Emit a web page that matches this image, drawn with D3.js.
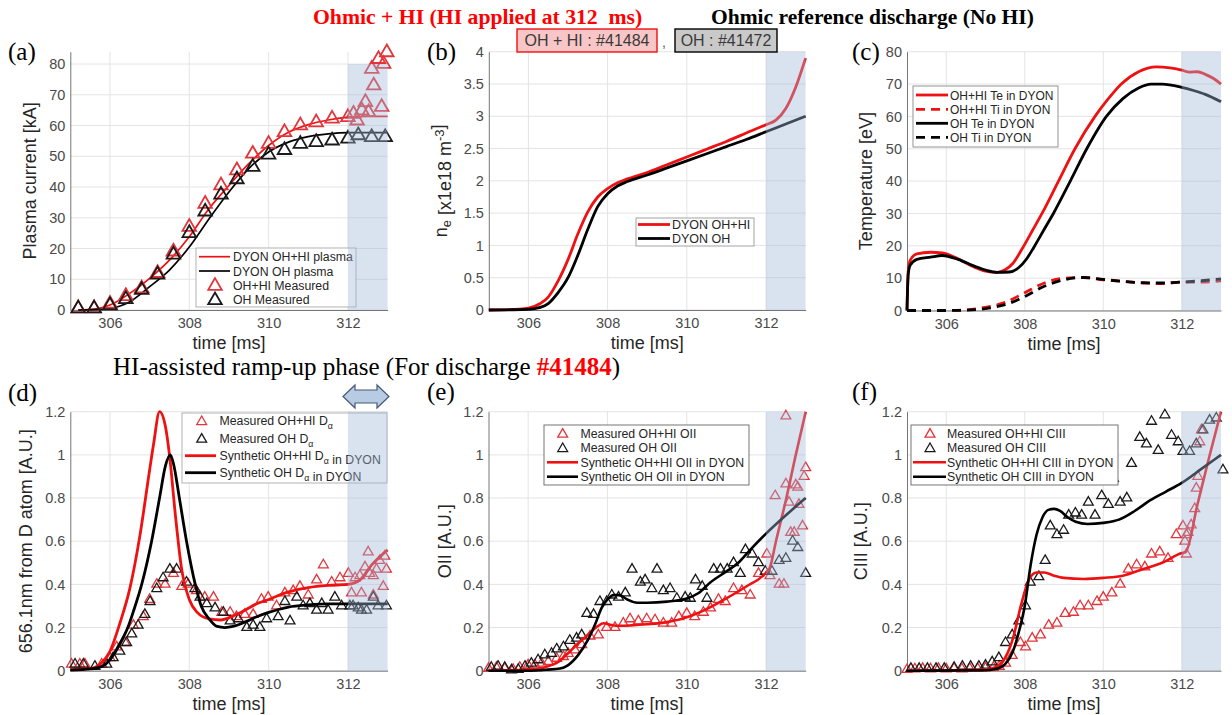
<!DOCTYPE html>
<html>
<head>
<meta charset="utf-8">
<script src="https://cdn.jsdelivr.net/npm/d3@7"></script>
<style>
  body { margin: 0; background: #fff; }
  svg { display: block; }
</style>
</head>
<body>
<svg id="fig" width="1232" height="715"></svg>
<script>
// ---- data (time in ms) ----
var xTicks = [306, 308, 310, 312];
var ipTicks = [0, 10, 20, 30, 40, 50, 60, 70, 80];
var neTicks = [0, 0.5, 1, 1.5, 2, 2.5, 3, 3.5, 4];
var auTicks = [0, 0.2, 0.4, 0.6, 0.8, 1, 1.2];

// (a) plasma current [kA]
var ipSimHI = [[305.2,0],[305.6,0.3],[306,1.6],[306.5,5.4],[307,10.3],[307.5,16.2],[308,23.8],[308.5,33],[309,40.5],[309.5,47.6],[310,53.5],[310.5,57.8],[311,60.3],[311.5,61.8],[312,62.7],[312.5,63],[313,63]];
var ipSimOH = [[305.2,0],[305.6,0.1],[306,0.5],[306.5,2.7],[307,7.6],[307.5,13],[308,20.5],[308.5,29.7],[309,38.4],[309.5,46],[310,51.4],[310.5,54.6],[311,56.4],[311.5,57.3],[312,57.7],[313,57.7]];
var ipMeasHI = [[305.2,0.5],[305.6,0.5],[306,2],[306.4,4.5],[306.8,7],[307.2,12],[307.6,19],[308,27],[308.4,34.5],[308.8,40.5],[309.2,45.4],[309.6,50.8],[310,54],[310.4,57.8],[310.8,60],[311.2,61],[311.6,62.2],[312,62.7],[312.14,63.8],[312.23,61.6],[312.35,64.9],[312.44,67.6],[312.52,64.3],[312.6,78.4],[312.65,73],[312.77,81.6],[312.85,66],[312.9,80],[312.98,83.8]];
var ipMeasOH = [[305.2,0.5],[305.6,0.5],[306,1.5],[306.4,3.5],[306.8,6.5],[307.2,11.5],[307.6,18],[308,25],[308.4,32],[308.8,37.5],[309.2,42.5],[309.6,46.5],[310,50.5],[310.4,52],[310.8,54],[311.2,54.6],[311.6,55.1],[312,55.7],[312.26,56.8],[312.6,56.2],[312.94,56.2]];

// (b) electron density [1e18 m^-3]
var neHI = [[305,0],[305.5,0.005],[306,0.03],[306.3,0.1],[306.5,0.2],[306.75,0.45],[307,0.78],[307.25,1.18],[307.5,1.52],[307.75,1.75],[308,1.88],[308.25,1.97],[308.5,2.03],[309,2.13],[309.5,2.25],[310,2.37],[310.5,2.49],[311,2.61],[311.5,2.74],[312,2.87],[312.25,2.94],[312.5,3.12],[312.75,3.45],[313,3.9]];
var neOH = [[305,0],[305.5,0.003],[306,0.01],[306.3,0.04],[306.5,0.1],[306.75,0.27],[307,0.5],[307.25,0.85],[307.5,1.25],[307.75,1.6],[308,1.8],[308.25,1.92],[308.5,1.99],[309,2.09],[309.5,2.2],[310,2.31],[310.5,2.42],[311,2.53],[311.5,2.64],[312,2.76],[312.5,2.88],[313,3]];

// (c) temperatures [eV]
var teHI = [[305,0],[305.03,12],[305.08,15.5],[305.25,17.5],[305.6,18],[305.9,17.8],[306.3,16],[306.7,13.5],[307,12.2],[307.3,11.8],[307.5,12.6],[307.7,14.6],[307.93,19],[308.2,24.8],[308.44,30],[308.86,40],[309.28,50],[309.79,60],[310.1,65],[310.46,70],[310.9,73.8],[311.35,75.3],[311.7,75],[312,74.3],[312.2,73.7],[312.4,73.8],[312.6,73],[312.8,71.8],[313,70]];
var tiHI = [[305,0],[306,0],[306.5,0.2],[307,1],[307.5,2.5],[308,5.5],[308.5,8.5],[309,10],[309.5,10.2],[310,9.5],[310.5,9],[311,8.5],[311.5,8.3],[312,8.8],[312.5,8.8],[313,9.2]];
var teOH = [[305,0],[305.03,11],[305.08,14],[305.25,15.8],[305.6,16.5],[305.9,17],[306.3,15.8],[306.7,13.8],[307,12.5],[307.3,11.8],[307.6,11.9],[307.85,13.3],[308.05,16],[308.23,19.5],[308.5,25.2],[308.73,30],[309.16,40],[309.58,50],[310.08,60],[310.5,65.5],[310.9,68.8],[311.22,70],[311.5,70],[312,69],[312.3,68],[312.6,66.8],[313,64.5]];
var tiOH = [[305,0],[306,0],[306.5,0.1],[307,0.6],[307.5,1.8],[308,4.3],[308.5,7.5],[309,9.5],[309.5,10.2],[310,9.6],[310.5,9],[311,8.6],[311.5,8.5],[312,8.8],[312.5,9.2],[313,9.8]];

// (d) D-alpha 656.1 nm [A.U.]
var daMeasHI = [[305.03,0.03],[305.24,0.03],[305.37,0.03],[305.79,0.03],[306,0.06],[306.17,0.11],[306.38,0.13],[306.59,0.21],[306.84,0.25],[307,0.33],[307.18,0.4],[307.39,0.4],[307.6,0.45],[307.81,0.39],[307.97,0.4],[308.18,0.37],[308.39,0.34],[308.61,0.34],[308.82,0.27],[309.03,0.27],[309.19,0.25],[309.4,0.26],[309.61,0.26],[309.82,0.33],[309.99,0.34],[310.2,0.3],[310.41,0.36],[310.62,0.37],[310.79,0.39],[311,0.35],[311.21,0.42],[311.38,0.49],[311.59,0.41],[311.8,0.43],[312.01,0.45],[312.09,0.36],[312.18,0.43],[312.3,0.44],[312.34,0.36],[312.43,0.48],[312.51,0.55],[312.55,0.45],[312.64,0.35],[312.64,0.44],[312.72,0.47],[312.8,0.51],[312.89,0.39],[312.93,0.53],[312.97,0.47]];
var daMeasOH = [[305.12,0.03],[305.33,0.03],[305.62,0.02],[305.92,0.03],[306.08,0.06],[306.25,0.09],[306.42,0.13],[306.55,0.17],[306.71,0.21],[306.88,0.26],[307.01,0.32],[307.18,0.38],[307.34,0.43],[307.51,0.47],[307.68,0.47],[307.93,0.41],[308.14,0.38],[308.27,0.34],[308.44,0.31],[308.65,0.29],[308.86,0.27],[309.03,0.23],[309.24,0.24],[309.45,0.2],[309.61,0.21],[309.78,0.2],[309.95,0.24],[310.24,0.25],[310.41,0.32],[310.54,0.23],[310.71,0.34],[310.87,0.3],[311.04,0.31],[311.21,0.28],[311.34,0.31],[311.5,0.28],[311.67,0.34],[311.84,0.3],[312.05,0.3],[312.13,0.3],[312.26,0.29],[312.34,0.28],[312.47,0.28],[312.64,0.34],[312.76,0.3],[312.97,0.3]];
var daSimHI = [[305,0.005],[305.5,0.01],[305.75,0.03],[306,0.09],[306.25,0.22],[306.5,0.38],[306.75,0.62],[307,0.93],[307.1,1.05],[307.25,1.2],[307.4,1.13],[307.5,1],[307.65,0.72],[307.8,0.48],[308,0.33],[308.2,0.27],[308.5,0.24],[308.8,0.235],[309,0.245],[309.3,0.27],[309.7,0.31],[310,0.33],[310.5,0.365],[311,0.385],[311.5,0.395],[312,0.4],[312.3,0.42],[312.6,0.49],[313,0.56]];
var daSimOH = [[305,0.003],[305.5,0.008],[305.8,0.02],[306,0.05],[306.2,0.11],[306.45,0.2],[306.6,0.28],[306.8,0.4],[307.05,0.6],[307.25,0.8],[307.4,0.95],[307.52,1],[307.6,0.96],[307.75,0.8],[307.93,0.6],[308.15,0.4],[308.3,0.3],[308.5,0.24],[308.7,0.205],[308.9,0.2],[309.1,0.205],[309.4,0.225],[309.7,0.25],[310,0.27],[310.5,0.295],[311,0.305],[311.5,0.31],[312,0.31],[313,0.31]];

// (e) OII [A.U.]
var oiiMeasHI = [[305,0.01],[305.2,0.015],[305.41,0.01],[305.62,0.006],[305.79,0.015],[306,0.026],[306.17,0.026],[306.34,0.034],[306.51,0.042],[306.72,0.057],[306.89,0.065],[307.01,0.08],[307.18,0.096],[307.35,0.12],[307.56,0.16],[307.77,0.165],[307.98,0.2],[308.19,0.2],[308.4,0.22],[308.57,0.24],[308.78,0.23],[308.99,0.24],[309.2,0.235],[309.41,0.22],[309.62,0.22],[309.8,0.25],[310,0.265],[310.2,0.25],[310.42,0.27],[310.6,0.29],[310.8,0.33],[310.97,0.32],[311.18,0.38],[311.39,0.37],[311.6,0.35],[311.81,0.45],[312.02,0.54],[312.1,0.44],[312.23,0.81],[312.33,0.4],[312.45,0.4],[312.5,1.18],[312.5,0.865],[312.58,0.78],[312.62,0.64],[312.71,0.64],[312.75,0.86],[312.8,0.85],[312.83,0.77],[312.92,0.67],[312.96,0.9],[313,0.94]];
var oiiMeasOH = [[305.07,0.015],[305.24,0.02],[305.41,0.015],[305.58,0.003],[305.75,0.006],[305.92,0.02],[306.08,0.034],[306.25,0.05],[306.42,0.073],[306.59,0.08],[306.72,0.1],[306.89,0.11],[307.05,0.14],[307.22,0.15],[307.35,0.165],[307.48,0.265],[307.65,0.26],[307.81,0.32],[307.98,0.32],[308.11,0.35],[308.28,0.34],[308.45,0.36],[308.62,0.47],[308.83,0.41],[308.95,0.42],[309.12,0.38],[309.25,0.47],[309.41,0.37],[309.58,0.38],[309.75,0.335],[309.96,0.34],[310.09,0.335],[310.22,0.42],[310.39,0.39],[310.51,0.335],[310.68,0.47],[310.85,0.47],[311.02,0.47],[311.18,0.5],[311.35,0.45],[311.48,0.56],[311.65,0.54],[311.81,0.5],[311.98,0.46],[312.15,0.46],[312.33,0.51],[312.5,0.52],[312.67,0.6],[312.8,0.57],[313,0.45]];
var oiiSimHI = [[305,0],[306,0.005],[306.5,0.02],[306.75,0.04],[307,0.08],[307.25,0.125],[307.5,0.165],[307.75,0.205],[307.9,0.22],[308.1,0.212],[308.3,0.208],[308.6,0.21],[309,0.215],[309.5,0.225],[310,0.247],[310.5,0.285],[311,0.335],[311.5,0.39],[312,0.455],[312.1,0.48],[312.25,0.6],[312.5,0.79],[312.75,1],[313,1.2]];
var oiiSimOH = [[305,0],[306,0],[306.5,0.005],[306.8,0.01],[307,0.025],[307.25,0.07],[307.5,0.14],[307.7,0.22],[307.85,0.29],[308,0.33],[308.15,0.35],[308.3,0.35],[308.5,0.33],[308.75,0.315],[309,0.315],[309.5,0.32],[310,0.335],[310.3,0.36],[310.6,0.41],[311,0.46],[311.3,0.5],[311.6,0.56],[312,0.635],[312.5,0.72],[313,0.8]];

// (f) CIII [A.U.]
var ciiiMeasHI = [[305,0.005],[305.2,0.008],[305.4,0.01],[305.6,0.008],[305.8,0.01],[306,0.008],[306.2,0.01],[306.4,0.008],[306.6,0.01],[306.8,0.01],[307,0.012],[307.2,0.015],[307.35,0.02],[307.51,0.034],[307.68,0.07],[307.89,0.13],[308.02,0.11],[308.19,0.15],[308.4,0.165],[308.61,0.21],[308.82,0.22],[309.03,0.265],[309.24,0.27],[309.41,0.3],[309.62,0.3],[309.84,0.32],[310,0.34],[310.22,0.36],[310.43,0.4],[310.64,0.47],[310.85,0.49],[311.06,0.48],[311.23,0.54],[311.44,0.55],[311.65,0.52],[311.86,0.63],[312.03,0.67],[312.08,0.6],[312.12,0.54],[312.12,0.63],[312.16,0.64],[312.24,0.675],[312.33,0.75],[312.37,0.845],[312.41,0.9],[312.46,1.06],[312.5,1.115]];
var ciiiMeasOH = [[305.1,0.01],[305.31,0.01],[305.52,0.01],[305.74,0.01],[305.95,0.01],[306.2,0.015],[306.41,0.02],[306.62,0.02],[306.83,0.02],[307,0.025],[307.17,0.04],[307.34,0.06],[307.51,0.13],[307.68,0.165],[307.85,0.23],[308.02,0.3],[308.14,0.41],[308.36,0.435],[308.52,0.51],[308.65,0.67],[308.82,0.63],[308.99,0.65],[309.12,0.72],[309.29,0.73],[309.45,0.72],[309.62,0.78],[309.79,0.72],[309.96,0.81],[310.13,0.77],[310.26,0.89],[310.43,0.78],[310.6,0.8],[310.72,0.96],[310.93,1.08],[311.1,1.05],[311.23,1.155],[311.4,1.02],[311.57,1.185],[311.74,1.09],[311.91,1.06],[312.03,1.015],[312.2,1.015],[312.37,1.05],[312.54,1.115],[312.71,1.16],[312.88,1.17],[313.05,0.93]];
var ciiiSimHI = [[305,0],[307,0.005],[307.3,0.02],[307.5,0.06],[307.7,0.15],[307.9,0.3],[308.1,0.42],[308.3,0.455],[308.5,0.455],[308.75,0.44],[309,0.43],[309.5,0.425],[310,0.43],[310.5,0.44],[311,0.47],[311.5,0.5],[312,0.545],[312.1,0.55],[312.4,0.77],[312.7,0.99],[313,1.2]];
var ciiiSimOH = [[305,0],[307,0.002],[307.3,0.01],[307.5,0.03],[307.7,0.09],[307.85,0.18],[308,0.3],[308.15,0.49],[308.3,0.63],[308.45,0.71],[308.6,0.745],[308.75,0.75],[308.9,0.74],[309.1,0.71],[309.3,0.69],[309.6,0.68],[310,0.685],[310.4,0.7],[310.8,0.74],[311.2,0.79],[311.6,0.83],[312,0.87],[312.5,0.935],[313,1]];

// ---- drawing ----
var svg = d3.select("#fig");
var SANS = "'Liberation Sans', Arial, Helvetica, sans-serif";
var SERIF = "'Liberation Serif', 'Times New Roman', serif";
var RED = "#ee1111", TRI_RED = "#e2343a", TRI_BLACK = "#1a1a1a";

function rich(sel, parts) {
  parts.forEach(function (p) {
    if (typeof p === "string") sel.append("tspan").text(p);
    else if (p.sub) { sel.append("tspan").attr("dy", 4).attr("font-size", "0.72em").text(p.sub); sel.append("tspan").attr("dy", -4).text(""); }
    else if (p.sup) { sel.append("tspan").attr("dy", -7).attr("font-size", "0.72em").text(p.sup); sel.append("tspan").attr("dy", 7).text(""); }
  });
}

function panel(o) {
  var x = d3.scaleLinear().domain([305, 313]).range([o.l, o.r]);
  var y = d3.scaleLinear().domain([0, o.yMax]).range([o.b, o.t]);
  var g = svg.append("g");

  g.append("g").selectAll("line").data(xTicks).join("line")
    .attr("x1", function (d) { return x(d); }).attr("x2", function (d) { return x(d); })
    .attr("y1", o.t).attr("y2", o.b).attr("stroke", "#e4e4e4");
  g.append("g").selectAll("line").data(o.yTicks).join("line")
    .attr("y1", function (d) { return y(d); }).attr("y2", function (d) { return y(d); })
    .attr("x1", o.l).attr("x2", o.r).attr("stroke", "#e4e4e4");

  var ax = g.append("g").attr("transform", "translate(0," + o.b + ")")
    .call(d3.axisBottom(x).tickValues(xTicks).tickSize(0).tickSizeOuter(0).tickPadding(8).tickFormat(d3.format("d")));
  var ay = g.append("g").attr("transform", "translate(" + o.l + ",0)")
    .call(d3.axisLeft(y).tickValues(o.yTicks).tickSize(0).tickSizeOuter(0).tickPadding(5).tickFormat(d3.format("~g")));
  [ax, ay].forEach(function (a) {
    a.select(".domain").attr("stroke", "#666").attr("stroke-width", 0.9);
    a.selectAll("text").attr("font-family", SANS).attr("font-size", 14.5).attr("fill", "#4a4a4a");
  });

  g.append("text").attr("x", (o.l + o.r) / 2).attr("y", o.b + 39)
    .attr("text-anchor", "middle").attr("font-family", SANS).attr("font-size", 18).attr("fill", "#262626")
    .text("time [ms]");
  var yl = g.append("text").attr("transform", "translate(" + o.ylx + "," + (o.t + o.b) / 2 + ") rotate(-90)")
    .attr("text-anchor", "middle").attr("font-family", SANS).attr("font-size", 18).attr("fill", "#262626");
  rich(yl, o.ylabel);

  var line = d3.line().x(function (d) { return x(d[0]); }).y(function (d) { return y(d[1]); }).curve(d3.curveMonotoneX);

  o.series.forEach(function (s) {
    if (s.kind === "line") {
      g.append("path").datum(s.data).attr("d", line).attr("fill", "none")
        .attr("stroke", s.color).attr("stroke-width", o.lw).attr("stroke-dasharray", s.dash || null)
        .attr("stroke-linejoin", "round");
    } else {
      g.append("g").selectAll("path").data(s.data).join("path")
        .attr("transform", function (d) { return "translate(" + x(d[0]) + "," + y(d[1]) + ")"; })
        .attr("d", d3.symbol().type(d3.symbolTriangle).size(o.tri))
        .attr("fill", "none").attr("stroke", s.color).attr("stroke-width", o.triW);
    }
  });

  // legend
  var L = o.legend;
  var lg = g.append("g");
  lg.append("rect").attr("x", L.box[0]).attr("y", L.box[1]).attr("width", L.box[2]).attr("height", L.box[3])
    .attr("fill", "#fff").attr("stroke", L.stroke).attr("stroke-width", 0.9);
  o.series.forEach(function (s, i) {
    var ry = L.rows[i];
    if (s.kind === "line") {
      lg.append("line").attr("x1", L.lx[0]).attr("x2", L.lx[1]).attr("y1", ry).attr("y2", ry)
        .attr("stroke", s.color).attr("stroke-width", o.lw).attr("stroke-dasharray", s.dash || null);
    } else {
      lg.append("path").attr("transform", "translate(" + L.mx + "," + (ry + 1) + ")")
        .attr("d", d3.symbol().type(d3.symbolTriangle).size(o.tri))
        .attr("fill", "none").attr("stroke", s.color).attr("stroke-width", o.triW);
    }
    var t = lg.append("text").attr("x", L.tx).attr("y", ry + 4.5)
      .attr("font-family", SANS).attr("font-size", L.fs).attr("fill", "#262626");
    rich(t, s.label);
  });

  // HI window shading
  g.append("rect").attr("x", x(312)).attr("width", x(313) - x(312))
    .attr("y", y(o.shadeTop)).attr("height", y(0) - y(o.shadeTop))
    .attr("fill", "#9fb6d6").attr("opacity", 0.4);

  svg.append("text").attr("x", o.tag[0]).attr("y", o.tag[1]).attr("font-family", SERIF)
    .attr("font-size", 25).attr("fill", "#000").text(o.tag[2]);
}

panel({
  l: 70.3, r: 387.6, t: 51.7, b: 310, yMax: 84, yTicks: ipTicks, shadeTop: 80, lw: 1.7, tri: 80, triW: 1.8,
  ylx: 36, ylabel: ["Plasma current [kA]"], tag: [8, 60, "(a)"],
  series: [
    { kind: "line", data: ipSimHI, color: RED, label: ["DYON OH+HI plasma"] },
    { kind: "line", data: ipSimOH, color: "#000", label: ["DYON OH plasma"] },
    { kind: "tri", data: ipMeasHI, color: TRI_RED, label: ["OH+HI Measured"] },
    { kind: "tri", data: ipMeasOH, color: TRI_BLACK, label: ["OH Measured"] }
  ],
  legend: { box: [196, 248, 160, 59], rows: [256.7, 271, 285, 299.3], lx: [199, 230], mx: 215, tx: 233, fs: 12.3, stroke: "#aaa" }
});

panel({
  l: 488.8, r: 805.6, t: 51.7, b: 310, yMax: 4, yTicks: neTicks, shadeTop: 4, lw: 2.8, tri: 40, triW: 1.3,
  ylx: 447, ylabel: ["n", { sub: "e" }, " [x1e18 m", { sup: "-3" }, "]"], tag: [427, 60, "(b)"],
  series: [
    { kind: "line", data: neHI, color: RED, label: ["DYON OH+HI"] },
    { kind: "line", data: neOH, color: "#000", label: ["DYON OH"] }
  ],
  legend: { box: [636, 218, 118, 28], rows: [224.5, 238.5], lx: [638, 670], mx: 654, tx: 672, fs: 12.5, stroke: "#999" }
});

panel({
  l: 907, r: 1221, t: 51.7, b: 310.5, yMax: 80, yTicks: ipTicks, shadeTop: 80, lw: 2.8, tri: 40, triW: 1.3,
  ylx: 872, ylabel: ["Temperature [eV]"], tag: [852, 60, "(c)"],
  series: [
    { kind: "line", data: teHI, color: RED, label: ["OH+HI Te in DYON"] },
    { kind: "line", data: tiHI, color: RED, dash: "9,6", label: ["OH+HI Ti in DYON"] },
    { kind: "line", data: teOH, color: "#000", label: ["OH Te in DYON"] },
    { kind: "line", data: tiOH, color: "#000", dash: "9,6", label: ["OH Ti in DYON"] }
  ],
  legend: { box: [913, 86, 145, 61], rows: [95, 109.3, 123.3, 137.3], lx: [916, 948], mx: 932, tx: 950, fs: 12, stroke: "#888" }
});

panel({
  l: 70.3, r: 387.6, t: 411.7, b: 670.7, yMax: 1.2, yTicks: auTicks, shadeTop: 1.2, lw: 2.8, tri: 42, triW: 1.3,
  ylx: 32, ylabel: ["656.1nm from D atom [A.U.]"], tag: [8, 401, "(d)"],
  series: [
    { kind: "tri", data: daMeasHI, color: TRI_RED, label: ["Measured OH+HI D", { sub: "α" }] },
    { kind: "tri", data: daMeasOH, color: TRI_BLACK, label: ["Measured OH D", { sub: "α" }] },
    { kind: "line", data: daSimHI, color: RED, label: ["Synthetic OH+HI D", { sub: "α" }, " in DYON"] },
    { kind: "line", data: daSimOH, color: "#000", label: ["Synthetic OH D", { sub: "α" }, " in DYON"] }
  ],
  legend: { box: [182, 413, 205, 70], rows: [420.7, 438.3, 455.7, 472.7], lx: [185, 216], mx: 201.7, tx: 219.5, fs: 12.3, stroke: "#aaa" }
});

panel({
  l: 488.5, r: 805.7, t: 411.7, b: 670.7, yMax: 1.2, yTicks: auTicks, shadeTop: 1.2, lw: 2.6, tri: 42, triW: 1.3,
  ylx: 451, ylabel: ["OII [A.U.]"], tag: [427, 400, "(e)"],
  series: [
    { kind: "tri", data: oiiMeasHI, color: TRI_RED, label: ["Measured OH+HI OII"] },
    { kind: "tri", data: oiiMeasOH, color: TRI_BLACK, label: ["Measured OH OII"] },
    { kind: "line", data: oiiSimHI, color: RED, label: ["Synthetic OH+HI OII in DYON"] },
    { kind: "line", data: oiiSimOH, color: "#000", label: ["Synthetic OH OII in DYON"] }
  ],
  legend: { box: [544, 425, 205, 60], rows: [433.3, 447.7, 462.3, 476.7], lx: [547, 578], mx: 562.7, tx: 580.5, fs: 12.3, stroke: "#666" }
});

panel({
  l: 907, r: 1221, t: 411.7, b: 670.7, yMax: 1.2, yTicks: auTicks, shadeTop: 1.2, lw: 2.6, tri: 42, triW: 1.3,
  ylx: 867, ylabel: ["CIII [A.U.]"], tag: [852, 400, "(f)"],
  series: [
    { kind: "tri", data: ciiiMeasHI, color: TRI_RED, label: ["Measured OH+HI CIII"] },
    { kind: "tri", data: ciiiMeasOH, color: TRI_BLACK, label: ["Measured OH CIII"] },
    { kind: "line", data: ciiiSimHI, color: RED, label: ["Synthetic OH+HI CIII in DYON"] },
    { kind: "line", data: ciiiSimOH, color: "#000", label: ["Synthetic OH CIII in DYON"] }
  ],
  legend: { box: [911, 425, 207, 60], rows: [433.3, 447.7, 462.3, 476.7], lx: [913, 946], mx: 930, tx: 947, fs: 12.3, stroke: "#666" }
});

// ---- headers and annotations ----
svg.append("text").attr("x", 313).attr("y", 24).attr("font-family", SERIF).attr("font-weight", "bold")
  .attr("font-size", 21.7).attr("fill", "#ff0000").style("white-space", "pre")
  .text("Ohmic + HI (HI applied at 312  ms)");
svg.append("text").attr("x", 711).attr("y", 24).attr("font-family", SERIF).attr("font-weight", "bold")
  .attr("font-size", 21.5).attr("fill", "#000")
  .text("Ohmic reference discharge (No HI)");

var tags = [
  { x: 517, w: 140, fill: "#f8c6c6", stroke: "#ee1111", text: "OH + HI : #41484" },
  { x: 675, w: 102, fill: "#c9c9c9", stroke: "#000", text: "OH : #41472" }
];
svg.selectAll("g.tag").data(tags).join("g").attr("class", "tag").each(function (d) {
  var s = d3.select(this);
  s.append("rect").attr("x", d.x).attr("y", 29).attr("width", d.w).attr("height", 23)
    .attr("fill", d.fill).attr("stroke", d.stroke).attr("stroke-width", 1.4);
  s.append("text").attr("x", d.x + d.w / 2).attr("y", 46).attr("text-anchor", "middle")
    .attr("font-family", SANS).attr("font-size", 16).attr("fill", "#3a3a3a").text(d.text);
});
svg.append("text").attr("x", 662).attr("y", 47).attr("font-family", SANS).attr("font-size", 14)
  .attr("fill", "#555").text(",");

var mid = svg.append("text").attr("x", 113).attr("y", 375).attr("font-family", SERIF)
  .attr("font-size", 25).attr("fill", "#000");
mid.append("tspan").text("HI-assisted ramp-up phase (For discharge ");
mid.append("tspan").attr("font-weight", "bold").attr("fill", "#ff0000").text("#41484");
mid.append("tspan").text(")");

svg.append("path")
  .attr("d", "M343,396.5 L355,385 L355,390 L377,390 L377,385 L389,396.5 L377,408 L377,403 L355,403 L355,408 Z")
  .attr("fill", "#b7cbe3").attr("stroke", "#44597a").attr("stroke-width", 1.2);
</script>
</body>
</html>
